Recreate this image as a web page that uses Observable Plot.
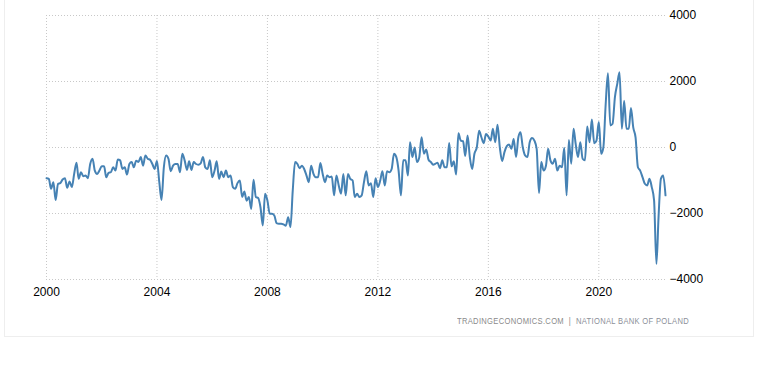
<!DOCTYPE html>
<html><head><meta charset="utf-8">
<script src="https://cdn.jsdelivr.net/npm/d3@7"></script>
<script src="https://cdn.jsdelivr.net/npm/@observablehq/plot@0.6"></script>
<style>
html,body{margin:0;padding:0;background:#fff;}
#wrap{position:relative;width:774px;height:378px;font-family:"Liberation Sans",Arial,sans-serif;}
#frame{position:absolute;left:4px;top:-2px;width:750px;height:339px;border:1px solid #eeeeee;box-sizing:border-box;}
#chart{position:absolute;left:0;top:0;}
#caption{position:absolute;top:315px;left:457px;font-size:9.5px;line-height:12px;letter-spacing:0.4px;white-space:nowrap;transform-origin:0 50%;}
#caption .a{color:#8a8a8a;}
#caption .b{color:#8c8f99;}
</style>
</head><body>
<div id="wrap"><div id="frame"></div><div id="chart"></div>
<div id="caption"><span class="a">TRADINGECONOMICS.COM</span><span class="a"> &nbsp;|&nbsp; </span><span class="b">NATIONAL BANK OF POLAND</span></div>
</div>
<script>
// Monthly current account balance (EUR million), starting January 2000
const startMonth = "2000-01-01";
const values = [
-930,-950,-1250,-1050,-1590,-1100,-1080,-970,-930,-1220,-1030,-1200,
-800,-460,-950,-750,-870,-850,-930,-500,-340,-700,-800,-700,
-570,-570,-900,-770,-750,-600,-700,-360,-390,-650,-600,-820,
-500,-440,-600,-400,-440,-290,-550,-240,-340,-370,-500,-650,
-410,-1050,-1590,-600,-240,-340,-720,-550,-500,-500,-750,-190,
-390,-680,-420,-680,-440,-500,-520,-480,-290,-600,-650,-390,
-900,-700,-420,-950,-730,-900,-700,-900,-850,-1200,-1250,-1080,
-1000,-1500,-1330,-1610,-1500,-1860,-980,-1500,-1530,-1810,-2360,-1400,
-1610,-2010,-2010,-2060,-2290,-2310,-2310,-2330,-2370,-2110,-2410,-1300,
-440,-500,-630,-550,-650,-850,-1050,-550,-800,-900,-900,-470,
-800,-1050,-850,-900,-880,-1450,-850,-1150,-1400,-800,-1450,-800,
-950,-1000,-1500,-1400,-1500,-1450,-1050,-720,-1150,-1080,-1500,-930,
-1200,-1000,-720,-1150,-720,-750,-650,-190,-290,-700,-1450,-390,
-390,-850,160,-290,0,-440,-300,310,-190,-60,-370,-440,
-520,-490,-460,-630,-390,-600,-600,140,-570,-420,-820,430,
210,190,-260,360,-290,-650,-190,0,510,310,130,410,
330,210,570,160,690,0,-410,-140,40,90,-40,260,
-290,310,460,0,-240,-290,160,290,210,-40,-1380,-440,
-700,-550,-40,-390,-490,-340,-700,-550,-600,-10,-1450,230,
-490,570,110,-290,160,-340,-390,640,160,850,130,210,
770,-190,0,1320,2250,670,720,1530,1930,2280,570,1420,
570,570,1200,600,310,-600,-700,-900,-1100,-1150,-950,-1200,
-1600,-3530,-2110,-950,-850,-1450
];
const xTickYears = [2000, 2004, 2008, 2012, 2016, 2020];
const yTicks = [-4000, -2000, 0, 2000, 4000];

const start = new Date(startMonth);
const data = values.map((v, i) => ({date: d3.utcMonth.offset(start, i), value: v}));
const xTicks = xTickYears.map(y => new Date(Date.UTC(y, 0, 1)));

const chart = Plot.plot({
  width: 774,
  height: 300,
  marginLeft: 46,
  marginRight: 109,
  marginTop: 15,
  marginBottom: 21,
  style: {fontFamily: '"Liberation Sans", Arial, sans-serif', fontSize: "12px", color: "#000", background: "transparent", overflow: "visible"},
  x: {type: "utc", domain: d3.extent(data, d => d.date)},
  y: {domain: [-4000, 4000]},
  marks: [
    Plot.gridX(xTicks, {stroke: "#c8c8c8", strokeOpacity: 1, strokeDasharray: "1,2"}),
    Plot.gridY(yTicks, {stroke: "#c8c8c8", strokeOpacity: 1, strokeDasharray: "1,2"}),
    Plot.axisX(xTicks, {tickSize: 0, tickPadding: 7.5, tickFormat: d3.utcFormat("%Y"), label: null, fill: "#000"}),
    Plot.axisY(yTicks, {anchor: "right", tickSize: 0, tickPadding: 4, textAnchor: "start", tickFormat: d3.format("d"), label: null, fill: "#000"}),
    Plot.line(data, {x: "date", y: "value", stroke: "#4682b4", strokeWidth: 2, curve: "monotone-x"})
  ]
});
document.getElementById("chart").appendChild(chart);
const cap = document.getElementById("caption");
const w = cap.getBoundingClientRect().width;
cap.style.transform = `scaleX(${232 / w})`;
</script>
</body></html>
